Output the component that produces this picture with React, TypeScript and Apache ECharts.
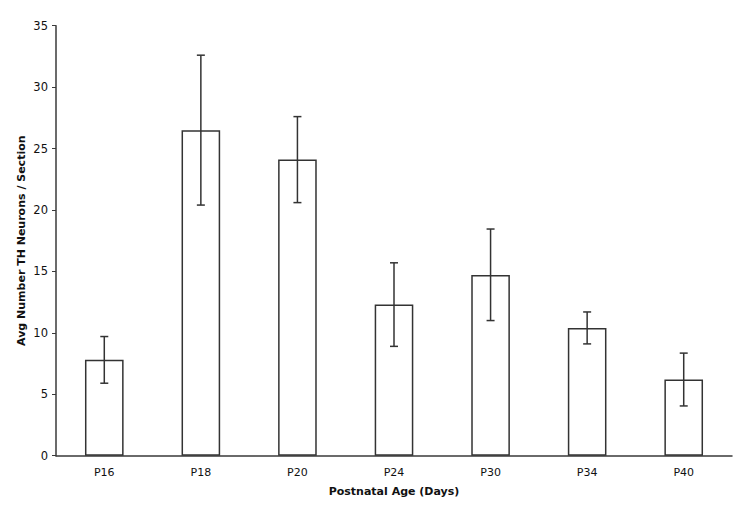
import React, { useEffect, useRef } from "react";
import * as echarts from "echarts";

const categories = ["P16", "P18", "P20", "P24", "P30", "P34", "P40"];
const means = [7.8, 26.5, 24.1, 12.3, 14.7, 10.4, 6.2];
const errLow = [5.9, 20.4, 20.6, 8.9, 11.0, 9.1, 4.05];
const errHigh = [9.7, 32.6, 27.6, 15.7, 18.45, 11.7, 8.35];

export default function App() {
  const ref = useRef<HTMLDivElement>(null);
  useEffect(() => {
    if (!ref.current) return;
    const chart = echarts.init(ref.current, null, { renderer: "svg" });
    const font = "DejaVu Sans, Verdana, sans-serif";
    const axisColor = "#3a3a3a";
    const errData = categories.map((_, i) => [i, errLow[i], errHigh[i]]);
    chart.setOption({
      animation: false,
      backgroundColor: "#ffffff",
      grid: { left: 56, right: 18, top: 25.7, bottom: 57.3, containLabel: false },
      xAxis: {
        type: "category",
        data: categories,
        name: "Postnatal Age (Days)",
        nameLocation: "middle",
        nameGap: 30,
        nameTextStyle: { fontFamily: font, fontSize: 11, fontWeight: "bold", color: "#111" },
        axisLine: { lineStyle: { color: axisColor, width: 1.5 } },
        axisTick: { show: false },
        axisLabel: { fontFamily: font, fontSize: 11, color: "#111", margin: 11 },
      },
      yAxis: {
        type: "value",
        min: 0,
        max: 35,
        interval: 5,
        name: "Avg Number TH Neurons / Section",
        nameLocation: "middle",
        nameGap: 29,
        nameMoveOverlap: false,
        nameTextStyle: { fontFamily: font, fontSize: 11, fontWeight: "bold", color: "#111" },
        axisLine: { show: true, lineStyle: { color: axisColor, width: 1.5 } },
        axisTick: { show: true, length: 4, lineStyle: { color: axisColor } },
        axisLabel: { fontFamily: font, fontSize: 11.5, color: "#111", margin: 8 },
        splitLine: { show: false },
      },
      series: [
        {
          type: "bar",
          data: means,
          barWidth: "40%",
          itemStyle: { color: "#ffffff", borderColor: "#333", borderWidth: 1.5 },
        },
        {
          type: "custom",
          data: errData,
          z: 10,
          renderItem: (params: any, api: any) => {
            const x = api.value(0);
            const lo = api.coord([x, api.value(1)]);
            const hi = api.coord([x, api.value(2)]);
            const cap = 4;
            const style = { stroke: "#333", lineWidth: 1.5, fill: "none" };
            return {
              type: "group",
              children: [
                { type: "line", shape: { x1: lo[0], y1: lo[1], x2: hi[0], y2: hi[1] }, style },
                { type: "line", shape: { x1: lo[0] - cap, y1: lo[1], x2: lo[0] + cap, y2: lo[1] }, style },
                { type: "line", shape: { x1: hi[0] - cap, y1: hi[1], x2: hi[0] + cap, y2: hi[1] }, style },
              ],
            };
          },
        },
      ],
    });
    return () => chart.dispose();
  }, []);
  return <div ref={ref} style={{ width: 750, height: 513, position: "absolute", left: 0, top: 0 }} />;
}
